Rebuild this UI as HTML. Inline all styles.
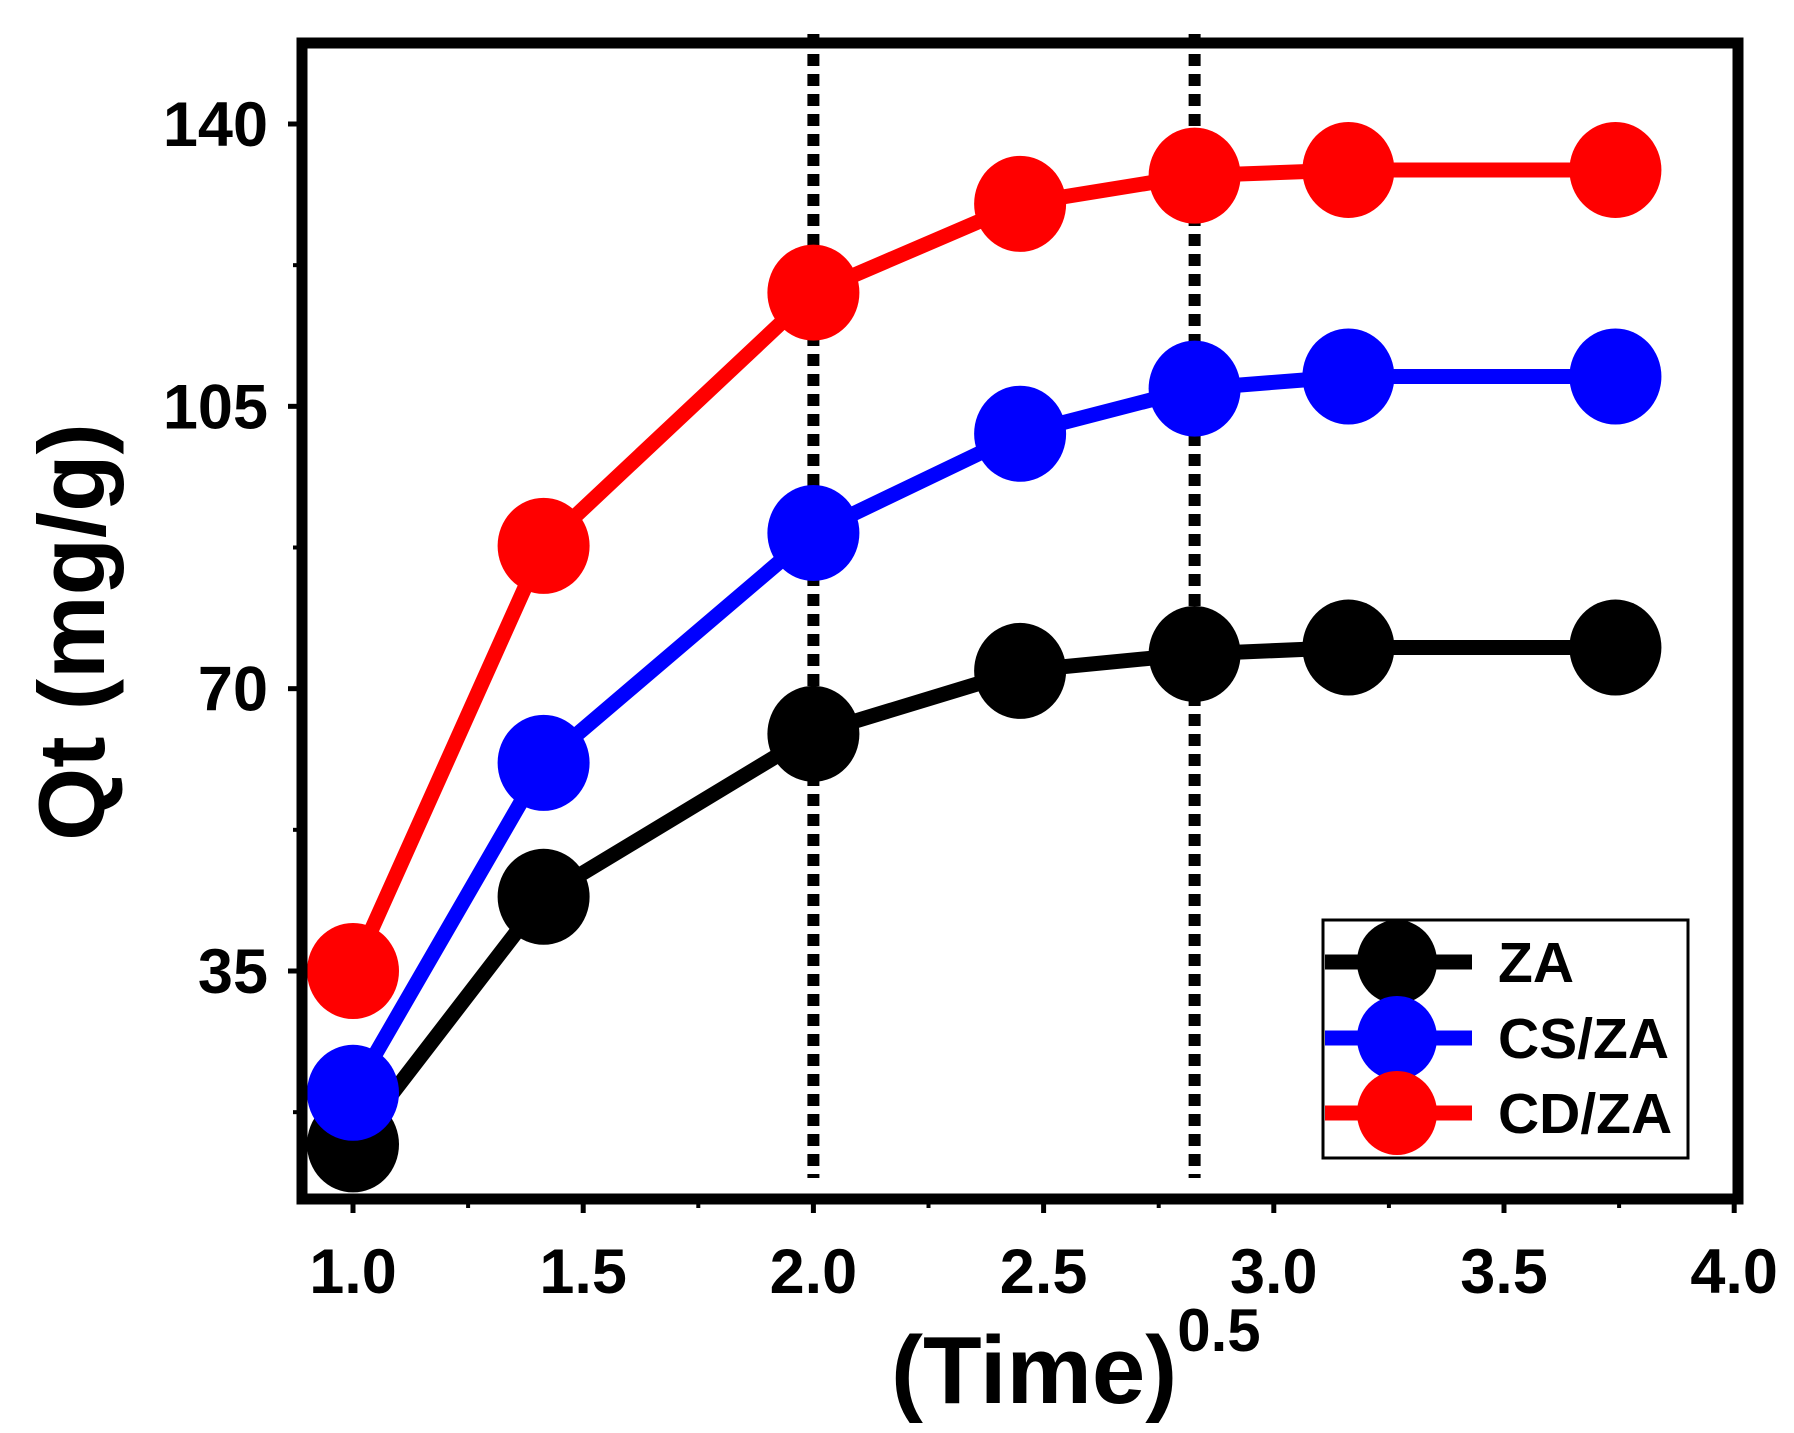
<!DOCTYPE html>
<html><head><meta charset="utf-8"><style>body{margin:0;background:#fff}svg{display:block}text{font-family:"Liberation Sans",Arial,sans-serif;font-weight:bold}</style></head>
<body>
<svg id="c" width="1794" height="1433" viewBox="0 0 1794 1433">
<g id="plot"></g>
</svg>
<script>
const xValues=[1,1.414,2,2.449,2.828,3.162,3.742];
const seriesNames=["ZA","CS/ZA","CD/ZA"];
const seriesColors=["#000000","#0000ff","#ff0000"];
const zaValues=[13.5,44.2,64.4,72.2,74.3,75.1,75.1];
const cszaValues=[19.9,60.8,89.3,101.6,107.2,108.7,108.7];
const cdzaValues=[35,87.7,119.1,130.1,133.6,134.3,134.3];
const xTicks=[1.0,1.5,2.0,2.5,3.0,3.5,4.0];
const yTicks=[35,70,105,140];
const vLines=[2.0,2.828];
const NS="http://www.w3.org/2000/svg";
const g=document.getElementById('plot');
const L=302,R=1738,T=43,B=1199;
const sx=v=>353+(v-1)*460.4;
const sy=v=>124+(140-v)*(847/105);
function el(t,a,p){const e=document.createElementNS(NS,t);for(const k in a)e.setAttribute(k,a[k]);(p||g).appendChild(e);return e;}
xTicks.forEach(v=>{const t=el('line',{x1:sx(v),x2:sx(v),y1:B,y2:B+14,stroke:'#000','stroke-width':5});


if(v<4){const m=el('line',{x1:sx(v+0.25),x2:sx(v+0.25),y1:B,y2:B+9,stroke:'#000','stroke-width':4});

}
const tx=el('text',{x:sx(v),y:1293,'text-anchor':'middle','font-size':63});tx.textContent=v.toFixed(1);

});
yTicks.forEach(v=>{const t=el('line',{x1:L-14,x2:L,y1:sy(v),y2:sy(v),stroke:'#000','stroke-width':5});


const m=el('line',{x1:L-9,x2:L,y1:sy(v-17.5),y2:sy(v-17.5),stroke:'#000','stroke-width':4});


const tx=el('text',{x:L-34,y:sy(v)+22,'text-anchor':'end','font-size':63});tx.textContent=v;

});
el('line',{x1:L-9,x2:L,y1:sy(157.5),y2:sy(157.5),stroke:'#000','stroke-width':4});
vLines.forEach(v=>{const d=el('line',{x1:sx(v),x2:sx(v),y1:34,y2:1178,stroke:'#000','stroke-width':12,'stroke-dasharray':'12 8'});

});
[zaValues,cszaValues,cdzaValues].forEach((vals,i)=>{
const pts=vals.map((v,j)=>sx(xValues[j])+','+sy(v)).join(' ');
const pl=el('polyline',{points:pts,fill:'none',stroke:seriesColors[i],'stroke-width':15});


vals.forEach((v,j)=>{const c=el('ellipse',{cx:sx(xValues[j]),cy:sy(v),rx:46,ry:48,fill:seriesColors[i]});

});
});
const f=el('rect',{x:L,y:T,width:R-L,height:B-T,fill:'none',stroke:'#000','stroke-width':11});


const lg=el('g',{});


el('rect',{x:1323,y:920,width:365,height:238,fill:'#fff',stroke:'#000','stroke-width':3},lg);
[962,1038,1113].forEach((y,i)=>{
const e=el('g',{},lg);


el('line',{x1:1325,x2:1472,y1:y,y2:y,stroke:seriesColors[i],'stroke-width':15},e);
el('ellipse',{cx:1397,cy:y,rx:40,ry:42,fill:seriesColors[i]},e);
const t=el('text',{x:1498,y:y+20,'font-size':57},e);t.textContent=seriesNames[i];});
const yt=el('text',{x:0,y:0,'font-size':94,'text-anchor':'middle',transform:'translate(104,632) rotate(-90)'});yt.textContent='Qt (mg/g)';


const xt=el('text',{x:891,y:1403,'font-size':96});xt.textContent='(Time)';


const sup=el('tspan',{'font-size':60,dy:-52},xt);sup.textContent='0.5';
</script>
</body></html>
